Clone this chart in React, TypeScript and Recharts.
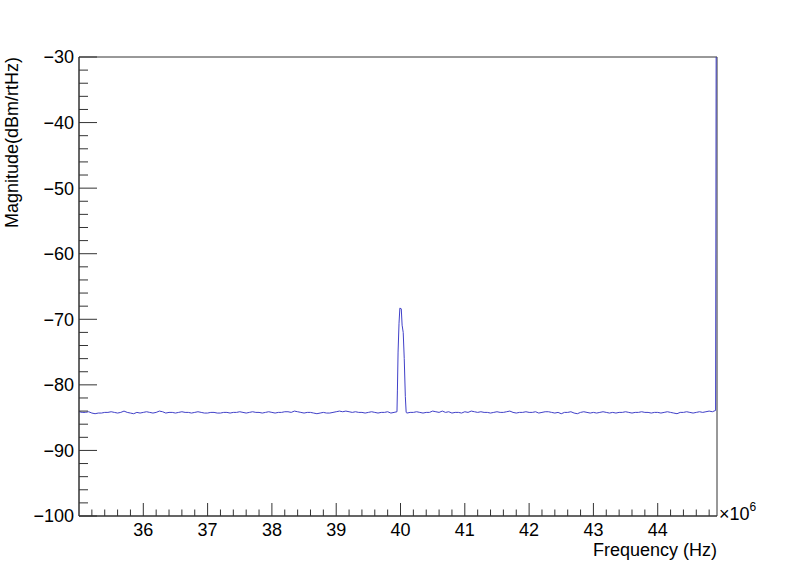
import { LineChart, Line, XAxis, YAxis, ReferenceArea } from "recharts";

// frequency grid (MHz) of the noise floor, one point every 0.05 MHz
const lowStart = 35.0;
const highStart = 40.1;
const step = 0.05;

// 35.00 .. 39.90 MHz
const lowNoise = [
  -84.1, -84.2, -84.2, -84.1, -84.3, -84.4, -84.3, -84.3, -84.2, -84.2,
  -84.1, -84.2, -84.3, -84.2, -84.0, -84.2, -84.3, -84.4, -84.2, -84.3,
  -84.2, -84.1, -84.2, -84.3, -84.2, -84.0, -84.1, -84.3, -84.2, -84.2,
  -84.3, -84.2, -84.1, -84.2, -84.2, -84.3, -84.2, -84.1, -84.2, -84.3,
  -84.3, -84.2, -84.2, -84.3, -84.3, -84.2, -84.2, -84.3, -84.2, -84.2,
  -84.1, -84.2, -84.3, -84.2, -84.1, -84.2, -84.2, -84.3, -84.2, -84.1,
  -84.2, -84.3, -84.2, -84.2, -84.1, -84.1, -84.2, -84.0, -84.1, -84.2,
  -84.3, -84.2, -84.2, -84.3, -84.4, -84.3, -84.2, -84.3, -84.3, -84.2,
  -84.1, -84.0, -84.1, -84.0, -84.1, -84.2, -84.1, -84.2, -84.2, -84.3,
  -84.2, -84.1, -84.2, -84.3, -84.2, -84.2, -84.1, -84.3, -84.2,
];

// carrier peak around 40 MHz
const peakFreq = [39.945, 39.952, 39.962, 39.977, 39.99, 40.012, 40.025, 40.042, 40.058, 40.075, 40.088];
const peakMag = [-84.1, -80.8, -75.0, -70.6, -68.3, -68.4, -70.9, -72.0, -76.0, -81.8, -84.2];

// 40.10 .. 44.90 MHz
const highNoise = [
  -84.3, -84.2, -84.2, -84.1, -84.2, -84.3, -84.2, -84.2,
  -84.0, -84.1, -84.2, -84.0, -84.2, -84.1, -84.3, -84.2, -84.2, -84.3,
  -84.1, -84.2, -84.0, -84.1, -84.2, -84.1, -84.2, -84.2, -84.3, -84.2,
  -84.1, -84.2, -84.2, -84.1, -84.0, -84.2, -84.3, -84.2, -84.2, -84.1,
  -84.2, -84.2, -84.1, -84.3, -84.2, -84.1, -84.1, -84.2, -84.3, -84.2,
  -84.4, -84.2, -84.2, -84.1, -84.3, -84.4, -84.2, -84.1, -84.2, -84.3,
  -84.2, -84.3, -84.2, -84.1, -84.2, -84.3, -84.2, -84.3, -84.2, -84.2,
  -84.1, -84.2, -84.3, -84.2, -84.2, -84.1, -84.2, -84.2, -84.3, -84.2,
  -84.2, -84.3, -84.2, -84.1, -84.2, -84.3, -84.4, -84.2, -84.2, -84.1,
  -84.2, -84.3, -84.2, -84.1, -84.2, -84.1, -84.0, -84.1, -83.9,
];

// last bin shoots off the top of the frame
const edgeFreq = [44.912];
const edgeMag = [-10];

const xMin = 35.0;
const xMax = 44.922;
const yMin = -100;
const yMax = -30;

const data = [
  ...lowNoise.map((m, i) => ({ f: lowStart + i * step, mag: m })),
  ...peakFreq.map((f, i) => ({ f, mag: peakMag[i] })),
  ...highNoise.map((m, i) => ({ f: highStart + i * step, mag: m })),
  ...edgeFreq.map((f, i) => ({ f, mag: edgeMag[i] })),
];

const xTicks: number[] = [];
for (let k = 352; k <= 448; k += 2) xTicks.push(k / 10);
const yTicks: number[] = [];
for (let k = yMin; k <= yMax; k += 2) yTicks.push(k);

const FONT = "'Liberation Sans', Arial, Helvetica, sans-serif";
const AXIS = "#333";
const PLOT_BOTTOM = 516;
const PLOT_LEFT = 79;

function XTick(props: any) {
  const { x, payload } = props;
  const v = payload.value;
  const y = PLOT_BOTTOM;
  const major = Math.abs(v - Math.round(v)) < 1e-6;
  return (
    <g>
      <line x1={x} x2={x} y1={y} y2={y - (major ? 13 : 6.5)} stroke={AXIS} strokeWidth={1} />
      {major && (
        <text x={x} y={y + 20} textAnchor="middle" fontSize={18} fontFamily={FONT} fill="#000">
          {Math.round(v)}
        </text>
      )}
    </g>
  );
}

function YTick(props: any) {
  const { y, payload } = props;
  const v = payload.value;
  const x = PLOT_LEFT;
  const major = v % 10 === 0;
  return (
    <g>
      <line x1={x} x2={x + (major ? 18 : 9)} y1={y} y2={y} stroke={AXIS} strokeWidth={1} />
      {major && (
        <text x={x - 5} y={y} dy="0.36em" textAnchor="end" fontSize={18} fontFamily={FONT} fill="#000">
          {"\u2212" + Math.abs(v)}
        </text>
      )}
    </g>
  );
}

export default function App() {
  return (
    <div style={{ position: "absolute", left: 0, top: 0, width: 798, height: 575, background: "#fff" }}>
      <LineChart
        width={798}
        height={575}
        data={data}
        margin={{ top: 57, right: 81, bottom: 0, left: 0 }}
      >
        <XAxis
          dataKey="f"
          type="number"
          domain={[xMin, xMax]}
          ticks={xTicks}
          interval={0}
          height={59}
          tick={(p: any) => <XTick {...p} />}
          tickLine={false}
          axisLine={{ stroke: AXIS }}
          allowDataOverflow
        />
        <YAxis
          type="number"
          domain={[yMin, yMax]}
          ticks={yTicks}
          interval={0}
          width={79}
          tick={(p: any) => <YTick {...p} />}
          tickLine={false}
          axisLine={{ stroke: AXIS }}
          allowDataOverflow
        />
        <ReferenceArea x1={xMin} x2={xMax} y1={yMin} y2={yMax} fill="none" stroke={AXIS} strokeWidth={1} />
        <Line
          type="linear"
          dataKey="mag"
          stroke="#4040c8"
          strokeWidth={1}
          dot={false}
          isAnimationActive={false}
        />
      </LineChart>
      <svg
        width={798}
        height={575}
        style={{ position: "absolute", left: 0, top: 0, pointerEvents: "none" }}
      >
        <text x={717} y={556} textAnchor="end" fontSize={18} fontFamily={FONT} fill="#000">
          Frequency (Hz)
        </text>
        <text
          transform="translate(18,57) rotate(-90)"
          textAnchor="end"
          fontSize={18}
          fontFamily={FONT}
          fill="#000"
        >
          Magnitude(dBm/rtHz)
        </text>
        <text x={719} y={520} fontSize={18} fontFamily={FONT} fill="#000">
          {"\u00d710"}
          <tspan fontSize={12} dy={-9}>6</tspan>
        </text>
      </svg>
    </div>
  );
}
